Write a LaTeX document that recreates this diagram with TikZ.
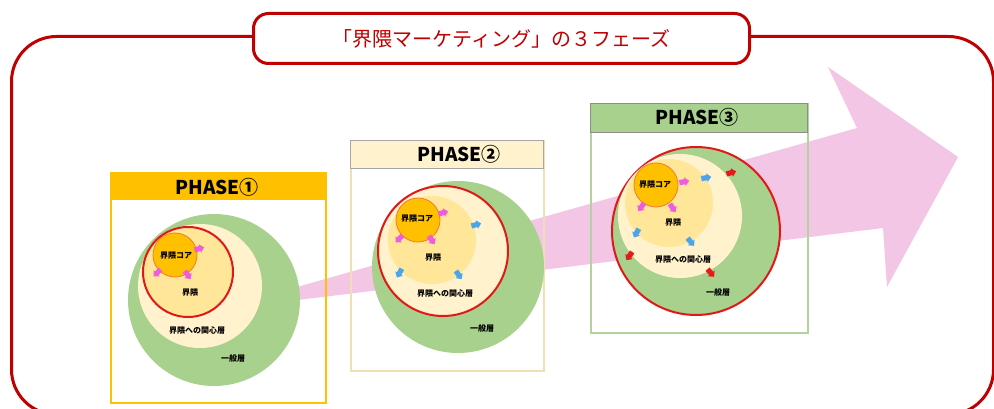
\documentclass[tikz,border=0pt]{standalone}
\usepackage{fontspec}
\newfontfamily\jp{Noto Sans CJK JP}
\usetikzlibrary{shapes.arrows}
\definecolor{framered}{HTML}{C00000}
\definecolor{arrowpink}{HTML}{F2C6E4}
\definecolor{gold}{HTML}{FFC000}
\definecolor{greenc}{HTML}{A9D18E}
\definecolor{creamc}{HTML}{FFF2CC}
\definecolor{lorange}{HTML}{FFE699}
\definecolor{coreedge}{HTML}{ED7D31}
\definecolor{ringred}{HTML}{E01818}
\definecolor{pinka}{HTML}{F05CE0}
\definecolor{bluea}{HTML}{4EA4E8}
\definecolor{reda}{HTML}{E51A1A}
\definecolor{beigeedge}{HTML}{F0DFB2}
\definecolor{lgreenedge}{HTML}{B3D39C}
\tikzset{
  disc/.style={circle, inner sep=0pt, minimum size=#1},
  ring/.style={circle, inner sep=0pt, minimum size=#1, draw=ringred, line width=2pt},
  core/.style={circle, inner sep=0pt, minimum size=44pt, fill=gold, draw=coreedge, line width=0.8pt},
  lbl/.style={font=\jp\bfseries\fontsize{8}{8}\selectfont, inner sep=0pt, text=black},
  sa/.style={single arrow, single arrow head extend=1.8pt, single arrow head indent=0pt, minimum height=10pt, inner xsep=0.5pt, inner ysep=2.4pt, fill=#1}
}
\begin{document}
\begin{tikzpicture}[x=1pt,y=-1pt]
\useasboundingbox (0,0) rectangle (994,409);
\fill[white] (0,0) rectangle (994,409);
% outer frame
\node[draw=framered, line width=3pt, rounded corners=45pt, minimum width=982pt, minimum height=378pt, anchor=north west, inner sep=0pt] (outer) at (10,35) {};
% title
\node[draw=framered, fill=white, line width=3pt, rounded corners=15pt, minimum width=496pt, minimum height=50pt, anchor=north west, inner sep=0pt] (titlebox) at (252,12) {};
\node[font=\jp\fontsize{20}{20}\selectfont, text=framered, inner sep=0pt] (title) at (titlebox.center) {「界隈マーケティング」の３フェーズ};
% big pink arrow
\fill[arrowpink] (290,289) -- (857,128) -- (828,67) -- (958,157) -- (887,287) -- (883,228) -- (290,301) -- cycle;

% ---------- PHASE 1 ----------
\node[draw=gold, line width=2pt, minimum width=215pt, minimum height=230pt, anchor=north west, inner sep=0pt] (box1) at (110,172) {};
\node[fill=gold, minimum width=215pt, minimum height=28pt, anchor=north west, inner sep=0pt] (head1) at (110,172) {};
\node[font=\jp\bfseries\fontsize{19}{19}\selectfont, inner sep=0pt] (ph1) at (217,187) {PHASE①};
\node[disc=172pt, fill=greenc] (g1) at (214,300) {};
\node[disc=124pt, fill=creamc] (c1) at (200,286) {};
\node[ring=90pt, fill=lorange] (k1) at (188,272) {};
\node[core] (core1) at (175,255) {};
\node[sa=pinka, rotate=15] (p1a) at (198,249) {};
\node[sa=pinka, rotate=225] (p1b) at (158,272) {};
\node[sa=pinka, rotate=305] (p1c) at (187,274) {};
\node[lbl] (t1a) at (176,256) {界隈コア};
\node[lbl] (t1b) at (190,293) {界隈};
\node[lbl] (t1c) at (197,330) {界隈への関心層};
\node[lbl] (t1d) at (233,358) {一般層};

% ---------- PHASE 2 ----------
\node[draw=beigeedge, line width=2pt, minimum width=193pt, minimum height=230pt, anchor=north west, inner sep=0pt] (box2) at (350,140) {};
\node[fill=creamc, draw=black!35, line width=0.8pt, minimum width=193pt, minimum height=28pt, anchor=north west, inner sep=0pt] (head2) at (350,140) {};
\node[font=\jp\bfseries\fontsize{19}{19}\selectfont, inner sep=0pt] (ph2) at (459,154) {PHASE②};
\node[disc=172pt, fill=greenc] (g2) at (458,267) {};
\node[ring=130pt, fill=creamc] (c2) at (443,251) {};
\node[disc=88pt, fill=lorange] (k2) at (432,240) {};
\node[core] (core2) at (418,220) {};
\node[sa=pinka, rotate=15] (p2a) at (442,213) {};
\node[sa=pinka, rotate=225] (p2b) at (400,238) {};
\node[sa=pinka, rotate=305] (p2c) at (431,239) {};
\node[sa=bluea, rotate=15] (b2a) at (475,225) {};
\node[sa=bluea, rotate=240] (b2b) at (400,272) {};
\node[sa=bluea, rotate=305] (b2c) at (458,274) {};
\node[lbl] (t2a) at (417,219) {界隈コア};
\node[lbl] (t2b) at (433,258) {界隈};
\node[lbl] (t2c) at (445,293) {界隈への関心層};
\node[lbl] (t2d) at (482,328) {一般層};

% ---------- PHASE 3 ----------
\node[draw=lgreenedge, line width=2pt, minimum width=217pt, minimum height=229pt, anchor=north west, inner sep=0pt] (box3) at (590,103) {};
\node[fill=greenc, draw=black!45, line width=0.8pt, minimum width=217pt, minimum height=29pt, anchor=north west, inner sep=0pt] (head3) at (590,103) {};
\node[font=\jp\bfseries\fontsize{19}{19}\selectfont, inner sep=0pt] (ph3) at (697,117) {PHASE③};
\node[ring=168pt, fill=greenc] (g3) at (696,231) {};
\node[disc=124pt, fill=creamc] (c3) at (680,216) {};
\node[disc=88pt, fill=lorange] (k3) at (669,203) {};
\node[core] (core3) at (656,185) {};
\node[sa=pinka, rotate=10] (p3a) at (683,182) {};
\node[sa=pinka, rotate=235] (p3b) at (642,206) {};
\node[sa=pinka, rotate=305] (p3c) at (672,207) {};
\node[sa=bluea, rotate=10] (b3a) at (705,178) {};
\node[sa=bluea, rotate=240] (b3b) at (637,232) {};
\node[sa=bluea, rotate=310] (b3c) at (690,241) {};
\node[sa=reda, rotate=15] (r3a) at (730,173) {};
\node[sa=reda, rotate=235] (r3b) at (630,255) {};
\node[sa=reda, rotate=310] (r3c) at (710,272) {};
\node[lbl] (t3a) at (655,185) {界隈コア};
\node[lbl] (t3b) at (673,223) {界隈};
\node[lbl] (t3c) at (683,259) {界隈への関心層};
\node[lbl] (t3d) at (718,292) {一般層};
\end{tikzpicture}
\end{document}
